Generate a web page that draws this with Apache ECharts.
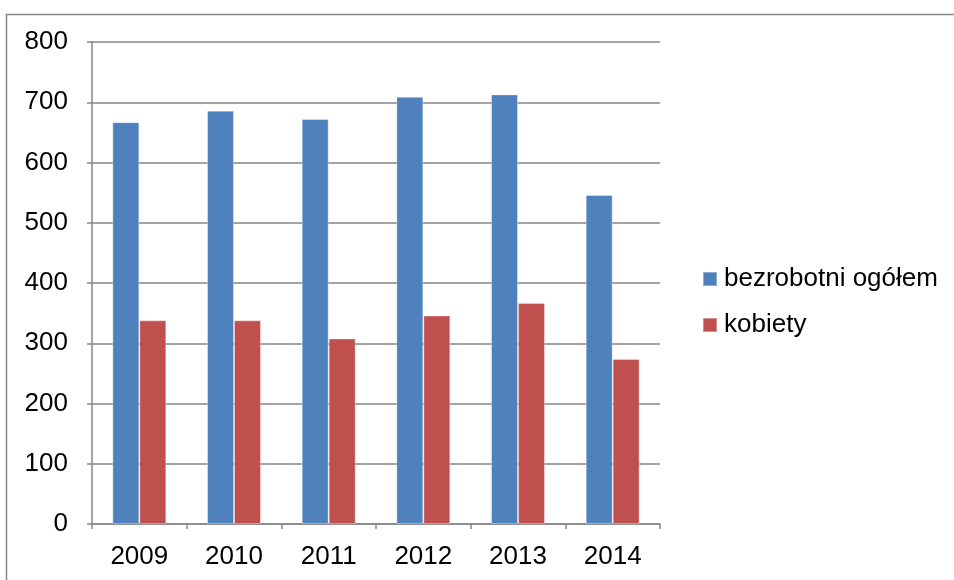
<!DOCTYPE html>
<html>
<head>
<meta charset="utf-8">
<script src="https://cdn.jsdelivr.net/npm/echarts@6/dist/echarts.min.js"></script>
<style>html,body{margin:0;padding:0;background:#fff;}#c{width:954px;height:580px;}</style>
</head>
<body>
<div id="c"></div>
<script>
const categories = ['2009', '2010', '2011', '2012', '2013', '2014'];
const bezrobotni = [667, 686, 672, 709, 713, 546];
const kobiety = [338, 338, 308, 346, 367, 274];
const yTicks = { min: 0, max: 800, interval: 100 };

const chart = echarts.init(document.getElementById('c'), null, { renderer: 'canvas' });
const font = 'Liberation Sans, Arial, sans-serif';
chart.setOption({
  animation: false,
  backgroundColor: '#fff',
  graphic: [{
    type: 'rect', left: 4, top: 12,
    shape: { width: 980, height: 600 },
    style: { fill: 'none', stroke: '#868686', lineWidth: 1.5 },
    silent: true, z: -1
  }],
  grid: { left: 92, right: 294, top: 42, bottom: 56, containLabel: false },
  legend: {
    orient: 'vertical', left: 697, top: 259,
    icon: 'rect', itemWidth: 14, itemHeight: 14, itemGap: 16,
    textStyle: { fontFamily: font, fontSize: 26, color: '#000', lineHeight: 30, padding: [0, 0, 0, 2] },
    data: ['bezrobotni ogółem', 'kobiety']
  },
  xAxis: {
    type: 'category', data: categories,
    axisLine: { lineStyle: { color: '#868686', width: 1.5 } },
    axisTick: { show: true, length: 5, alignWithLabel: false, lineStyle: { color: '#868686', width: 1.5 } },
    axisLabel: { fontFamily: font, fontSize: 26, color: '#000', margin: 20 }
  },
  yAxis: {
    type: 'value', min: yTicks.min, max: yTicks.max, interval: yTicks.interval,
    axisLine: { show: true, lineStyle: { color: '#868686', width: 1.5 } },
    axisTick: { show: true, length: 5, lineStyle: { color: '#868686', width: 1.5 } },
    axisLabel: { fontFamily: font, fontSize: 26, color: '#000', margin: 24 },
    splitLine: { lineStyle: { color: '#868686', width: 1.5 } }
  },
  series: [
    { name: 'bezrobotni ogółem', type: 'bar', data: bezrobotni, barGap: '0%', barCategoryGap: '43%',
      itemStyle: { color: '#4F81BD', borderColor: 'rgba(255,255,255,0.35)', borderWidth: 1 } },
    { name: 'kobiety', type: 'bar', data: kobiety,
      itemStyle: { color: '#C0504D', borderColor: 'rgba(255,255,255,0.35)', borderWidth: 1 } }
  ]
});
</script>
</body>
</html>
